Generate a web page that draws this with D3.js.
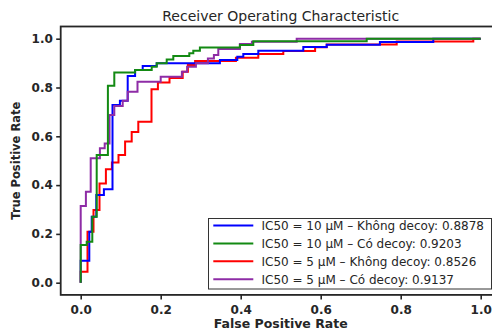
<!DOCTYPE html>
<html>
<head>
<meta charset="utf-8">
<script src="https://cdn.jsdelivr.net/npm/d3@7"></script>
<style>
  html, body { margin: 0; padding: 0; background: #ffffff; }
  svg { display: block; font-family: "DejaVu Sans", sans-serif; }
</style>
</head>
<body>
<svg id="chart" width="492" height="331"></svg>
<script>
// ---- Data (step corners of each ROC curve; y changes before x) ----
const tickValues = [0.0, 0.2, 0.4, 0.6, 0.8, 1.0];

const fprKhong10 = [0, 0.0215, 0.0275, 0.039, 0.058, 0.0795, 0.098, 0.1175, 0.136, 0.155, 0.19, 0.348, 0.3915, 0.4065, 0.444, 0.5565, 0.615, 0.748, 0.8815, 1];
const tprKhong10 = [0, 0.09, 0.209, 0.27, 0.359, 0.383, 0.728, 0.746, 0.847, 0.872, 0.888, 0.899, 0.913, 0.926, 0.937, 0.951, 0.966, 0.975, 0.986, 1];

const fprCo10 = [0, 0.015, 0.029, 0.04, 0.068, 0.084, 0.136, 0.1775, 0.19, 0.215, 0.2315, 0.2715, 0.2815, 0.298, 0.398, 0.4315, 0.715, 1];
const tprCo10 = [0, 0.155, 0.168, 0.27, 0.523, 0.807, 0.861, 0.872, 0.885, 0.899, 0.915, 0.929, 0.94, 0.951, 0.964, 0.974, 0.99, 1];

const fprKhong5 = [0, 0.017, 0.032, 0.047, 0.063, 0.078, 0.0945, 0.111, 0.1275, 0.144, 0.177, 0.193, 0.222, 0.255, 0.268, 0.286, 0.388, 0.444, 0.5065, 0.586, 0.615, 0.79, 0.9815, 1];
const tprKhong5 = [0, 0.045, 0.209, 0.298, 0.407, 0.465, 0.493, 0.523, 0.579, 0.618, 0.66, 0.793, 0.82, 0.839, 0.865, 0.892, 0.909, 0.922, 0.937, 0.95, 0.965, 0.976, 0.989, 1];

const fprCo5 = [0, 0.013, 0.025, 0.048, 0.06, 0.072, 0.084, 0.105, 0.1175, 0.142, 0.2, 0.253, 0.266, 0.288, 0.318, 0.333, 0.344, 0.398, 0.428, 0.54, 1];
const tprCo5 = [0, 0.314, 0.373, 0.51, 0.551, 0.57, 0.687, 0.724, 0.746, 0.783, 0.824, 0.844, 0.865, 0.885, 0.899, 0.919, 0.933, 0.958, 0.978, 0.988, 1];

const legendLabels = [
  "IC50 = 10 \u00B5M \u2013 Kh\u00F4ng decoy: 0.8878",
  "IC50 = 10 \u00B5M \u2013 C\u00F3 decoy: 0.9203",
  "IC50 = 5 \u00B5M \u2013 Kh\u00F4ng decoy: 0.8526",
  "IC50 = 5 \u00B5M \u2013 C\u00F3 decoy: 0.9137"
];
const seriesColors = ["#0000ff", "#138a13", "#ff0000", "#8e2ca6"];

const series = [
  { fpr: fprKhong10, tpr: tprKhong10, label: legendLabels[0], color: seriesColors[0] },
  { fpr: fprCo10,    tpr: tprCo10,    label: legendLabels[1], color: seriesColors[1] },
  { fpr: fprKhong5,  tpr: tprKhong5,  label: legendLabels[2], color: seriesColors[2] },
  { fpr: fprCo5,     tpr: tprCo5,     label: legendLabels[3], color: seriesColors[3] }
];
const drawOrder = [2, 0, 3, 1];

// ---- Layout ----
const svg = d3.select("#chart");
const padL = 60.7, padR = 500.7, padT = 26.5, padB = 294.9;

const x = d3.scaleLinear().domain([-0.05, 1.05]).range([padL, padR]);
const y = d3.scaleLinear().domain([-0.05, 1.05]).range([padB, padT]);

// curves
const line = d3.line()
  .x((d) => x(d[0]))
  .y((d) => y(d[1]))
  .curve(d3.curveStepBefore);

const plot = svg.append("g");
drawOrder.forEach((i) => {
  const s = series[i];
  const pts = s.fpr.map((f, k) => [f, s.tpr[k]]);
  plot.append("path")
    .datum(pts)
    .attr("fill", "none")
    .attr("stroke", s.color)
    .attr("stroke-width", 2)
    .attr("stroke-linejoin", "miter")
    .attr("d", line);
});

// axes
const fmt = d3.format(".1f");
const xAxis = svg.append("g")
  .attr("transform", `translate(0,${padB})`)
  .call(d3.axisBottom(x).tickValues(tickValues).tickFormat(fmt).tickSize(4.5).tickPadding(5.6));
const yAxis = svg.append("g")
  .attr("transform", `translate(${padL},0)`)
  .call(d3.axisLeft(y).tickValues(tickValues).tickFormat(fmt).tickSize(4.5).tickPadding(3.4));

[xAxis, yAxis].forEach((g) => {
  g.select(".domain").remove();
  g.selectAll(".tick line").attr("stroke", "#262626").attr("stroke-width", 1.6);
  g.selectAll(".tick text")
    .attr("fill", "#262626")
    .style("font-family", "DejaVu Sans")
    .style("font-size", "12px")
    .style("font-weight", "bold");
});

// spines (right one falls outside the canvas, as in the reference)
svg.append("rect")
  .attr("x", padL).attr("y", padT)
  .attr("width", padR - padL).attr("height", padB - padT)
  .attr("fill", "none")
  .attr("stroke", "#262626")
  .attr("stroke-width", 1.8);

// title & labels
svg.append("text")
  .attr("x", (padL + padR) / 2).attr("y", 20.5)
  .attr("text-anchor", "middle")
  .attr("fill", "#262626")
  .style("font-size", "14px").style("font-weight", "normal")
  .text("Receiver Operating Characteristic");

svg.append("text")
  .attr("x", (padL + padR) / 2).attr("y", 328)
  .attr("text-anchor", "middle")
  .attr("fill", "#262626")
  .style("font-size", "12.5px").style("font-weight", "bold")
  .text("False Positive Rate");

svg.append("text")
  .attr("transform", `translate(20,${(padT + padB) / 2}) rotate(-90)`)
  .attr("text-anchor", "middle")
  .attr("fill", "#262626")
  .style("font-size", "11.5px").style("font-weight", "bold")
  .text("True Positive Rate");

// legend
const lg = svg.append("g");
lg.append("rect")
  .attr("x", 208.5).attr("y", 218.5)
  .attr("width", 283).attr("height", 70.5)
  .attr("fill", "#ffffff")
  .attr("stroke", "#333333")
  .attr("stroke-width", 1);

series.forEach((s, i) => {
  const yy = 225.5 + i * 17.9;
  lg.append("line")
    .attr("x1", 213.3).attr("x2", 253.3)
    .attr("y1", yy).attr("y2", yy)
    .attr("stroke", s.color).attr("stroke-width", 2);
  lg.append("text")
    .attr("x", 261.5).attr("y", yy)
    .attr("dy", "0.36em")
    .attr("fill", "#262626")
    .style("font-size", "12px")
    .text(s.label);
});
</script>
</body>
</html>
